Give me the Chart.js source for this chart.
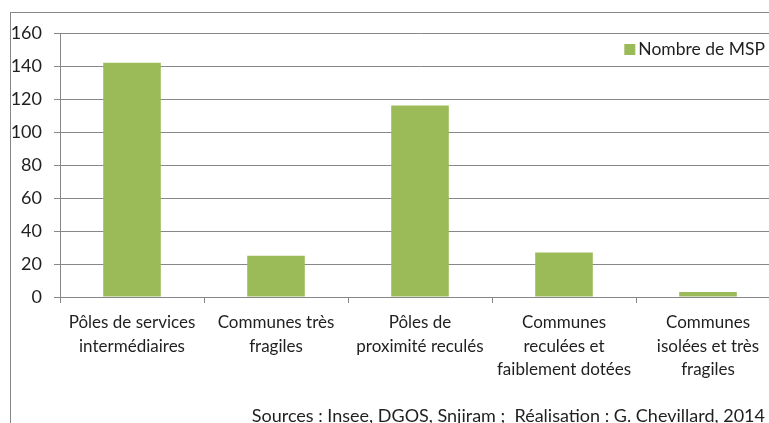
<!DOCTYPE html>
<html lang="fr">
<head>
<meta charset="utf-8">
<title>Nombre de MSP</title>
<script src="https://cdn.jsdelivr.net/npm/chart.js@4"></script>
<style>
  html, body { margin: 0; padding: 0; background: #fff; overflow: hidden; }
  #wrap { position: relative; width: 800px; height: 423px; }
</style>
</head>
<body>
<div id="wrap"><canvas id="msp"></canvas></div>
<script>
// categories and values
const categories = [
    ["Pôles de services", "intermédiaires"],
    ["Communes très", "fragiles"],
    ["Pôles de", "proximité reculés"],
    ["Communes", "reculées et", "faiblement dotées"],
    ["Communes", "isolées et très", "fragiles"]
];
const mspCounts = [142, 25, 116, 27, 3];
const seriesLabel = "Nombre de MSP";
const yTicks = [0, 20, 40, 60, 80, 100, 120, 140, 160];
const sourceNote = "Sources : Insee, DGOS, Snjiram ;  Réalisation : G. Chevillard, 2014";

const FONT = "Lato, 'Open Sans', sans-serif";
const GRID = "#878787";
const TEXT = "#1f1f1f";
const BAR = "#9bbb59";

// outer frame, legend box and source line
const decor = {
    id: "decor",
    beforeDraw(chart) {
        const ctx = chart.ctx;
        ctx.save();
        ctx.strokeStyle = GRID;
        ctx.lineWidth = 1;
        ctx.strokeRect(10.5, 12.5, 2000, 2000);
        ctx.restore();
    },
    afterDraw(chart) {
        const ctx = chart.ctx;
        const ds = chart.data.datasets[0];
        ctx.save();
        ctx.font = "17.5px " + FONT;
        ctx.fillStyle = TEXT;
        ctx.textBaseline = "middle";
        ctx.textAlign = "right";
        ctx.fillText(ds.label, 765, 49);
        const w = ctx.measureText(ds.label).width;
        ctx.fillStyle = ds.backgroundColor;
        ctx.fillRect(765 - w - 14, 44, 11, 11);

        ctx.font = "18px " + FONT;
        ctx.fillStyle = TEXT;
        ctx.textBaseline = "alphabetic";
        ctx.fillText(sourceNote, 765, 422);
        ctx.restore();
    }
};

const canvas = document.getElementById("msp");
canvas.width = 800;
canvas.height = 423;

new Chart(canvas.getContext("2d"), {
    type: "bar",
    data: {
        labels: categories,
        datasets: [{
            label: seriesLabel,
            data: mspCounts,
            backgroundColor: BAR,
            categoryPercentage: 1,
            barPercentage: 0.4
        }]
    },
    options: {
        responsive: false,
        animation: false,
        layout: { padding: { top: 33, right: 20, bottom: 0, left: 0 } },
        plugins: {
            tooltip: { enabled: false },
            legend: { display: false }
        },
        scales: {
            x: {
                afterFit: s => { s.height = 126; },
                grid: { drawOnChartArea: false, drawTicks: true, tickLength: 6, color: GRID },
                border: { color: GRID },
                ticks: {
                    color: TEXT,
                    padding: 8,
                    maxRotation: 0,
                    autoSkip: false,
                    font: { family: FONT, size: 17, lineHeight: 1.38 }
                }
            },
            y: {
                min: 0,
                max: 160,
                afterFit: s => { s.width = 60; },
                afterBuildTicks: s => { s.ticks = yTicks.map(v => ({ value: v })); },
                grid: { color: GRID, tickLength: 6 },
                border: { color: GRID },
                ticks: {
                    color: TEXT,
                    padding: 12,
                    font: { family: FONT, size: 18 }
                }
            }
        }
    },
    plugins: [decor]
});
</script>
</body>
</html>
